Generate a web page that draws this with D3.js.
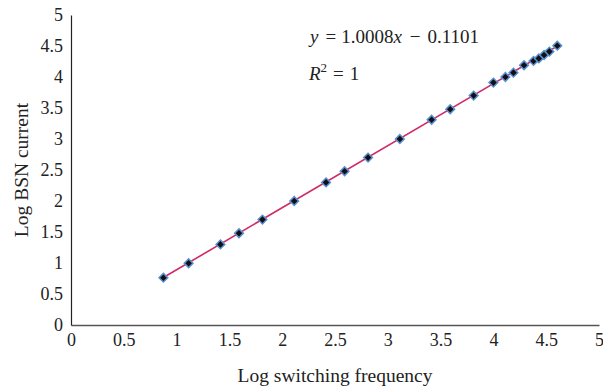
<!DOCTYPE html>
<html>
<head>
<meta charset="utf-8">
<script src="https://cdn.jsdelivr.net/npm/d3@7"></script>
<style>
  body { margin: 0; background: #fff; }
  text { font-family: "Liberation Serif", "DejaVu Serif", serif; fill: #222; }
</style>
</head>
<body>
<script>
// data
const logFreq = [0.875, 1.114, 1.415, 1.591, 1.813, 2.114, 2.415, 2.591, 2.813, 3.114,
  3.415, 3.591, 3.813, 4.0, 4.114, 4.19, 4.29, 4.38, 4.43, 4.48, 4.53, 4.605];
const logCurrent = [0.763, 0.996, 1.30, 1.48, 1.70, 2.0, 2.30, 2.48, 2.70, 3.0,
  3.31, 3.48, 3.70, 3.91, 4.0, 4.07, 4.19, 4.26, 4.30, 4.355, 4.41, 4.505];
const xTicks = [0, 0.5, 1, 1.5, 2, 2.5, 3, 3.5, 4, 4.5, 5];
const yTicks = [0, 0.5, 1, 1.5, 2, 2.5, 3, 3.5, 4, 4.5, 5];
const slope = 1.0008, intercept = -0.1101;

const width = 603, height = 389;
const margin = {top: 15, right: 4, bottom: 64, left: 71};

const svg = d3.select("body").append("svg")
  .attr("width", width)
  .attr("height", height);

const x = d3.scaleLinear().domain([0, 5]).range([margin.left, width - margin.right]);
const y = d3.scaleLinear().domain([0, 5]).range([height - margin.bottom, margin.top]);

// axes
svg.append("g")
  .attr("transform", `translate(0,${y(0)})`)
  .call(d3.axisBottom(x).tickValues(xTicks).tickSize(0).tickPadding(8).tickFormat(d3.format("")))
  .call(g => g.select(".domain").attr("stroke", "#555").attr("stroke-width", 1.5))
  .selectAll("text")
    .style("font-size", "18px")
    .style("font-family", "Liberation Serif, serif")
    .attr("fill", "#222");

svg.append("g")
  .attr("transform", `translate(${x(0)},0)`)
  .call(d3.axisLeft(y).tickValues(yTicks).tickSize(0).tickPadding(8).tickFormat(d3.format("")))
  .call(g => g.select(".domain").attr("stroke", "#222").attr("stroke-width", 1.2))
  .selectAll("text")
    .style("font-size", "18px")
    .style("font-family", "Liberation Serif, serif")
    .attr("fill", "#222");

// axis titles
svg.append("text")
  .attr("x", (x(0) + x(5)) / 2)
  .attr("y", 382)
  .attr("text-anchor", "middle")
  .style("font-size", "19.5px")
  .text("Log switching frequency");

svg.append("text")
  .attr("transform", `translate(28,${(y(0) + y(5)) / 2}) rotate(-90)`)
  .attr("text-anchor", "middle")
  .style("font-size", "19.5px")
  .text("Log BSN current");

// trend line
const xMin = d3.min(logFreq), xMax = d3.max(logFreq);
svg.append("line")
  .attr("x1", x(xMin)).attr("y1", y(slope * xMin + intercept))
  .attr("x2", x(xMax)).attr("y2", y(slope * xMax + intercept))
  .attr("stroke", "#d02a68")
  .attr("stroke-width", 1.6);

// points
const pts = logFreq.map((d, i) => ({x: d, y: logCurrent[i]}));
svg.append("g").selectAll("path")
  .data(pts)
  .enter().append("path")
    .attr("d", d3.symbol(d3.symbolSquare, 38))
    .attr("transform", d => `translate(${x(d.x)},${y(d.y)}) rotate(45)`)
    .attr("fill", "#111")
    .attr("stroke", "#5b8fd0")
    .attr("stroke-width", 1.5);

// equation
const eq = svg.append("text")
  .attr("x", 310)
  .attr("y", 43)
  .style("font-size", "19px");
eq.append("tspan").style("font-style", "italic").text("y");
eq.append("tspan").attr("dx", 7).text("=");
eq.append("tspan").attr("dx", 5).text("1.0008");
eq.append("tspan").style("font-style", "italic").text("x");
eq.append("tspan").attr("dx", 8).text("\u2212");
eq.append("tspan").attr("dx", 7).text("0.1101");

const r2 = svg.append("text")
  .attr("x", 309)
  .attr("y", 80)
  .style("font-size", "19px");
r2.append("tspan").style("font-style", "italic").text("R");
r2.append("tspan").attr("dy", -8).style("font-size", "13px").text("2");
r2.append("tspan").attr("dy", 8).attr("dx", 6).text("=");
r2.append("tspan").attr("dx", 6).text("1");
</script>
</body>
</html>
